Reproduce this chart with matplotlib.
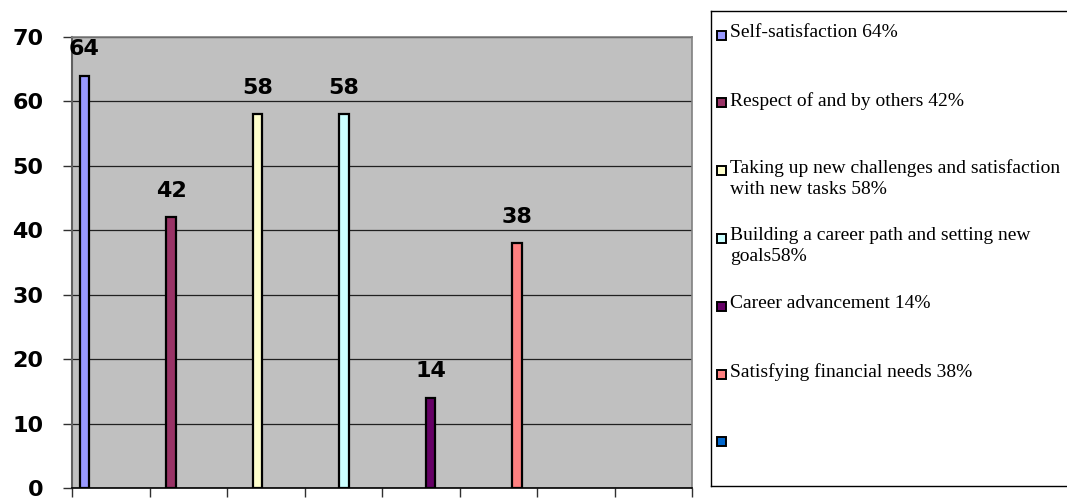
import numpy as np
import matplotlib
matplotlib.use("Agg")
from matplotlib import pyplot as plt
from matplotlib.patches import Rectangle

# survey answers (percent)
labels = ["Self-satisfaction 64%",
          "Respect of and by others 42%",
          "Taking up new challenges and satisfaction\nwith new tasks 58%",
          "Building a career path and setting new\ngoals58%",
          "Career advancement 14%",
          "Satisfying financial needs 38%",
          ""]
values = [64, 42, 58, 58, 14, 38]
colors = ["#9999FF", "#993366", "#FFFFCC", "#CCFFFF", "#660066", "#FF8080", "#0066CC"]
yticks = [0, 10, 20, 30, 40, 50, 60, 70]

W, H = 1067, 499
fig = plt.figure(figsize=(W / 100, H / 100), dpi=100)

# main plot area
ax = fig.add_axes([72 / W, 11 / H, 620 / W, 451 / H])
ax.set_facecolor("#C0C0C0")
x = np.arange(len(values))
ax.bar(x, values, width=0.115, color=colors[:len(values)], edgecolor="black", linewidth=1.6, zorder=3)
for xi, v in zip(x, values):
    ax.annotate(str(v), (xi, v), xytext=(0, 12), textcoords="offset points",
                ha="center", va="bottom", fontsize=16, fontweight="bold", family="DejaVu Sans")

ax.set_xlim(-0.1445, 7.023)
ax.set_ylim(0, 70)
ax.set_xticks(np.linspace(-0.1445, 7.023, 9))
ax.set_xticklabels([])
ax.set_yticks(yticks)
ax.set_yticklabels([str(t) for t in yticks], fontsize=16, fontweight="bold", family="DejaVu Sans")
ax.tick_params(axis="both", direction="out", length=6.5, width=1, color="#303030")
ax.tick_params(axis="y", pad=14)
ax.yaxis.grid(True, color="#202020", linewidth=0.9, zorder=1)
ax.set_axisbelow(True)
for s in ["top", "right"]:
    ax.spines[s].set_color("#808080")
    ax.spines[s].set_linewidth(1.2)
ax.spines["left"].set_color("#606060")
ax.spines["left"].set_linewidth(1.5)
ax.spines["bottom"].set_color("black")
ax.spines["bottom"].set_linewidth(1.2)

# legend box (drawn by hand, runs off the right edge like the original)
lg = fig.add_axes([711 / W, 13 / H, 370 / W, 475 / H])
lg.set_xlim(0, 370)
lg.set_ylim(475, 0)
lg.set_xticks([])
lg.set_yticks([])
for s in lg.spines.values():
    s.set_color("black")
    s.set_linewidth(1)
for i, (lab, c) in enumerate(zip(labels, colors)):
    yc = 24 + i * 67.8
    lg.add_patch(Rectangle((6, yc - 4.5), 9, 9, facecolor=c, edgecolor="black", linewidth=1.4))
    lg.text(19, yc - 11, lab, va="top", ha="left", fontsize=14,
            family="Liberation Serif", linespacing=1.25)

fig.savefig("out.png", dpi=100)
